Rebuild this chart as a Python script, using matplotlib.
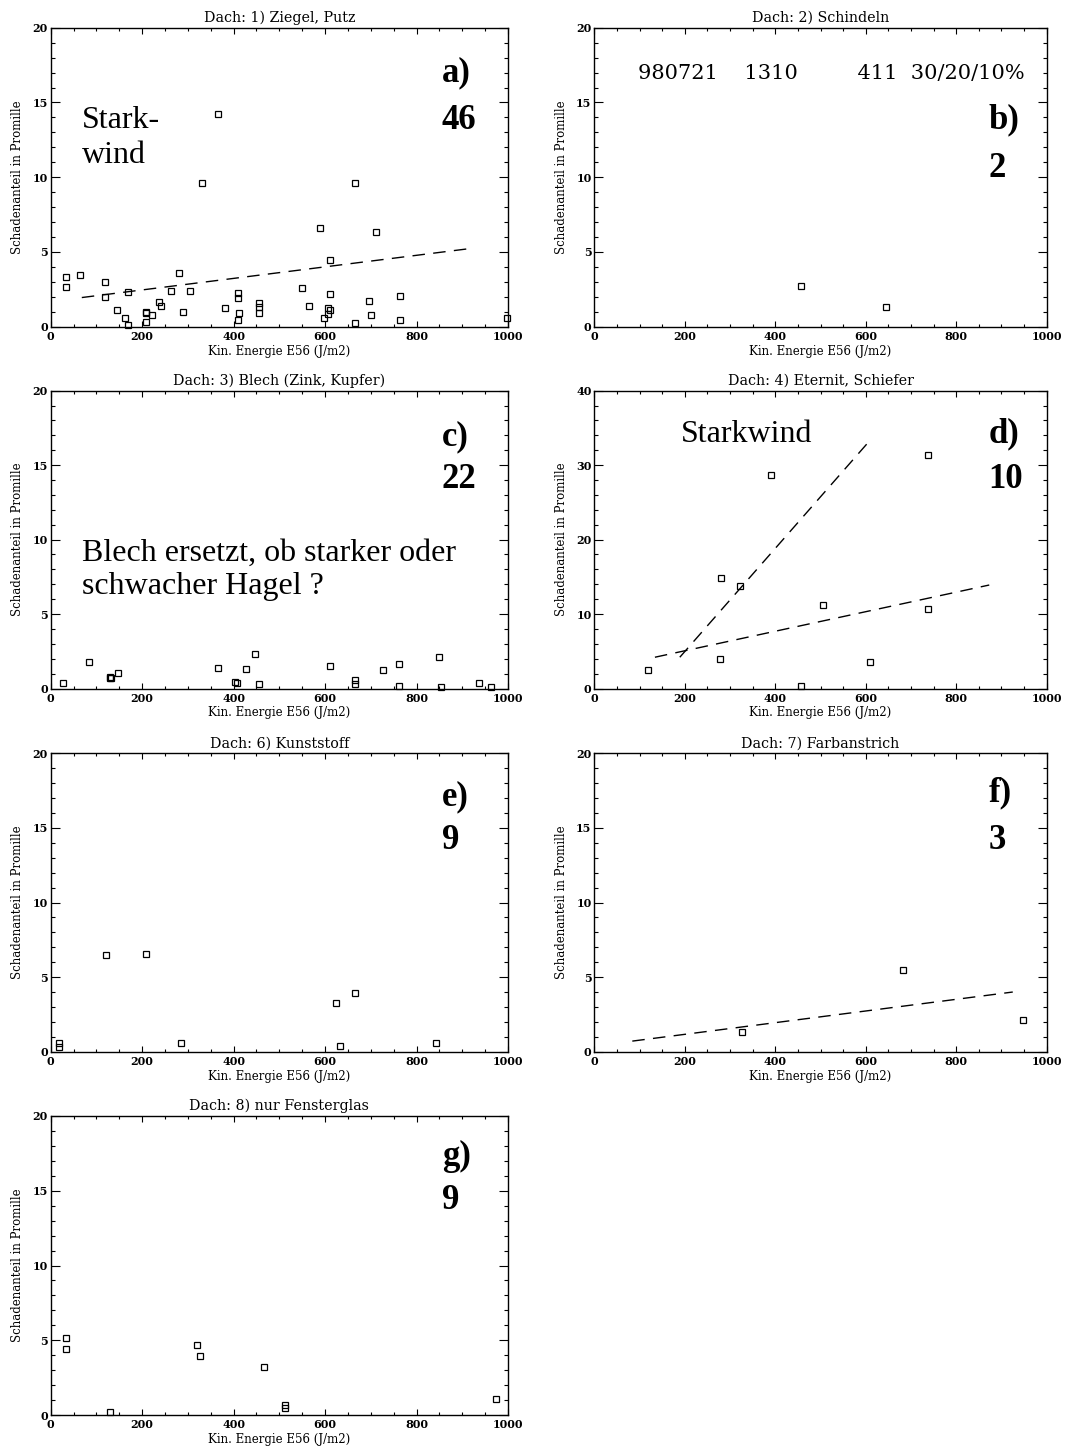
import matplotlib
matplotlib.use("Agg")
import matplotlib.pyplot as plt
from matplotlib.ticker import MultipleLocator

W, H = 1069, 1450

# ---------------- data ----------------
titles = ["Dach: 1) Ziegel, Putz", "Dach: 2) Schindeln", "Dach: 3) Blech (Zink, Kupfer)",
          "Dach: 4) Eternit, Schiefer", "Dach: 6) Kunststoff", "Dach: 7) Farbanstrich",
          "Dach: 8) nur Fensterglas"]
panel_letters = ["a)", "b)", "c)", "d)", "e)", "f)", "g)"]
panel_counts = ["46", "2", "22", "10", "9", "3", "9"]

a_x = [33.5, 33.5, 65, 119, 119, 145, 162, 168, 168, 208, 208, 208, 222, 237, 241, 264,
       280, 289, 304, 331, 365, 381, 409, 409, 412, 409, 455, 455, 455, 549, 564, 589,
       598, 606, 606, 611, 611, 611, 665, 665, 695, 700, 711, 764, 764, 997]
a_y = [3.3, 2.65, 3.48, 2.97, 1.98, 1.11, 0.56, 0.11, 2.32, 0.89, 0.96, 0.33, 0.78, 1.63,
       1.38, 2.39, 3.61, 0.98, 2.39, 9.61, 14.25, 1.25, 2.23, 1.94, 0.89, 0.45, 1.6, 1.34,
       0.91, 2.56, 1.38, 6.62, 0.56, 1.25, 0.85, 4.46, 2.2, 1.11, 9.61, 0.22, 1.74, 0.78,
       6.33, 2.03, 0.42, 0.6]
a_fit_x = [68, 910]
a_fit_y = [1.95, 5.2]

b_x = [457, 645]
b_y = [2.74, 1.34]

c_x = [26, 84, 130, 131, 148, 366, 404, 408, 426, 447, 455, 611, 665, 665, 727, 762, 762,
       849, 853, 937, 963, 130]
c_y = [0.34, 1.79, 0.72, 0.68, 1.05, 1.41, 0.45, 0.38, 1.3, 2.35, 0.29, 1.5, 0.6, 0.29,
       1.23, 1.64, 0.18, 2.13, 0.11, 0.34, 0.11, 0.74]

d_x = [119, 281, 277, 321, 391, 456, 505, 609, 738, 738]
d_y = [2.55, 14.9, 3.9, 13.75, 28.7, 0.4, 11.2, 3.5, 31.4, 10.7]
d_fit1_x = [189, 609]
d_fit1_y = [4.2, 33.3]
d_fit2_x = [134, 873]
d_fit2_y = [4.2, 13.9]

e_x = [19, 19, 121, 208, 286, 624, 633, 665, 842]
e_y = [0.6, 0.29, 6.48, 6.55, 0.56, 3.28, 0.38, 3.95, 0.6]

f_x = [326, 682, 948]
f_y = [1.32, 5.47, 2.1]
f_fit_x = [84, 925]
f_fit_y = [0.71, 4.0]

g_x = [33.5, 33.5, 130, 319, 327, 466, 512, 512, 973]
g_y = [5.17, 4.39, 0.18, 4.68, 3.97, 3.23, 0.65, 0.45, 1.07]

xs = [a_x, b_x, c_x, d_x, e_x, f_x, g_x]
ys = [a_y, b_y, c_y, d_y, e_y, f_y, g_y]
fits = [[(a_fit_x, a_fit_y)], [], [], [(d_fit1_x, d_fit1_y), (d_fit2_x, d_fit2_y)], [],
        [(f_fit_x, f_fit_y)], []]
ymax = [20, 20, 20, 40, 20, 20, 20]

xlabel = "Kin. Energie E56 (J/m2)"
ylabel = "Schadenanteil in Promille"

# ---------------- layout ----------------
cols = [(50.7, 508.0), (594.3, 1046.7)]
rows = [(27.7, 326.7), (390.7, 688.5), (753.3, 1051.7), (1116.0, 1415.0)]

SERIF = "DejaVu Serif"
TIMES = "Liberation Serif"

fig = plt.figure(figsize=(W / 100, H / 100), dpi=100)
fig.patch.set_facecolor("white")

axes = []
for i in range(7):
    r, c = divmod(i, 2)
    L, R = cols[c]
    T, B = rows[r]
    ax = fig.add_axes([L / W, 1 - B / H, (R - L) / W, (B - T) / H])
    ym = ymax[i]
    ax.set_xlim(0, 1000)
    ax.set_ylim(0, ym)
    ax.xaxis.set_major_locator(MultipleLocator(200))
    ax.xaxis.set_minor_locator(MultipleLocator(50))
    ax.yaxis.set_major_locator(MultipleLocator(ym / 4))
    ax.yaxis.set_minor_locator(MultipleLocator(ym / 20))
    ax.tick_params(axis="both", which="both", direction="in", top=True, right=True,
                   width=0.8, colors="black")
    ax.tick_params(axis="x", which="major", length=4.5, pad=3)
    ax.tick_params(axis="x", which="minor", length=2.3)
    ax.tick_params(axis="y", which="major", length=6.5, pad=2)
    ax.tick_params(axis="y", which="minor", length=3.2)
    for lab in ax.get_xticklabels() + ax.get_yticklabels():
        lab.set_fontfamily(SERIF)
        lab.set_fontweight("bold")
        lab.set_fontsize(8)
    for sp in ax.spines.values():
        sp.set_linewidth(1.0)
    ax.set_title(titles[i], fontfamily=SERIF, fontsize=10.3, pad=4)
    ax.set_xlabel(xlabel, fontfamily=SERIF, fontsize=8.5, labelpad=2)
    ax.set_ylabel(ylabel, fontfamily=SERIF, fontsize=8.5, labelpad=6)

    for fx, fy in fits[i]:
        ax.plot(fx, fy, color="black", lw=1.0, dashes=(9, 6))
    ax.plot(xs[i], ys[i], linestyle="none", marker="s", markersize=5,
            markerfacecolor="none", markeredgecolor="black", markeredgewidth=0.9,
            clip_on=False)
    axes.append(ax)

# ---------------- annotations ----------------
lab_pos = [(855, 16.39, 13.2), (871, 13.27, 10.03), (855, 16.35, 13.44),
           (871, 33.1, 26.9), (855, 16.5, 13.6), (871, 16.8, 13.6), (855, 16.7, 13.8)]
for i, ax in enumerate(axes):
    x0, y1, y2 = lab_pos[i]
    ax.text(x0, y1, panel_letters[i], fontfamily=TIMES, fontweight="bold", fontsize=25,
            ha="left", va="baseline")
    ax.text(x0, y2, panel_counts[i], fontfamily=TIMES, fontweight="bold", fontsize=25,
            ha="left", va="baseline")

# va='baseline' on multi-line text aligns the last line's baseline
axes[0].text(68, 10.93, "Stark-\nwind", fontfamily=TIMES, fontsize=23, ha="left",
             va="baseline", linespacing=1.3)
axes[1].text(96, 16.57, "980721    1310         411  30/20/10%", fontfamily=SERIF,
             fontsize=15, ha="left", va="baseline")
axes[2].text(68, 6.38, "Blech ersetzt, ob starker oder\nschwacher Hagel ?", fontfamily=TIMES,
             fontsize=23, ha="left", va="baseline", linespacing=1.15)
axes[3].text(191, 33.1, "Starkwind", fontfamily=TIMES, fontsize=23, ha="left",
             va="baseline")

fig.savefig("out.png", dpi=100, facecolor="white")
